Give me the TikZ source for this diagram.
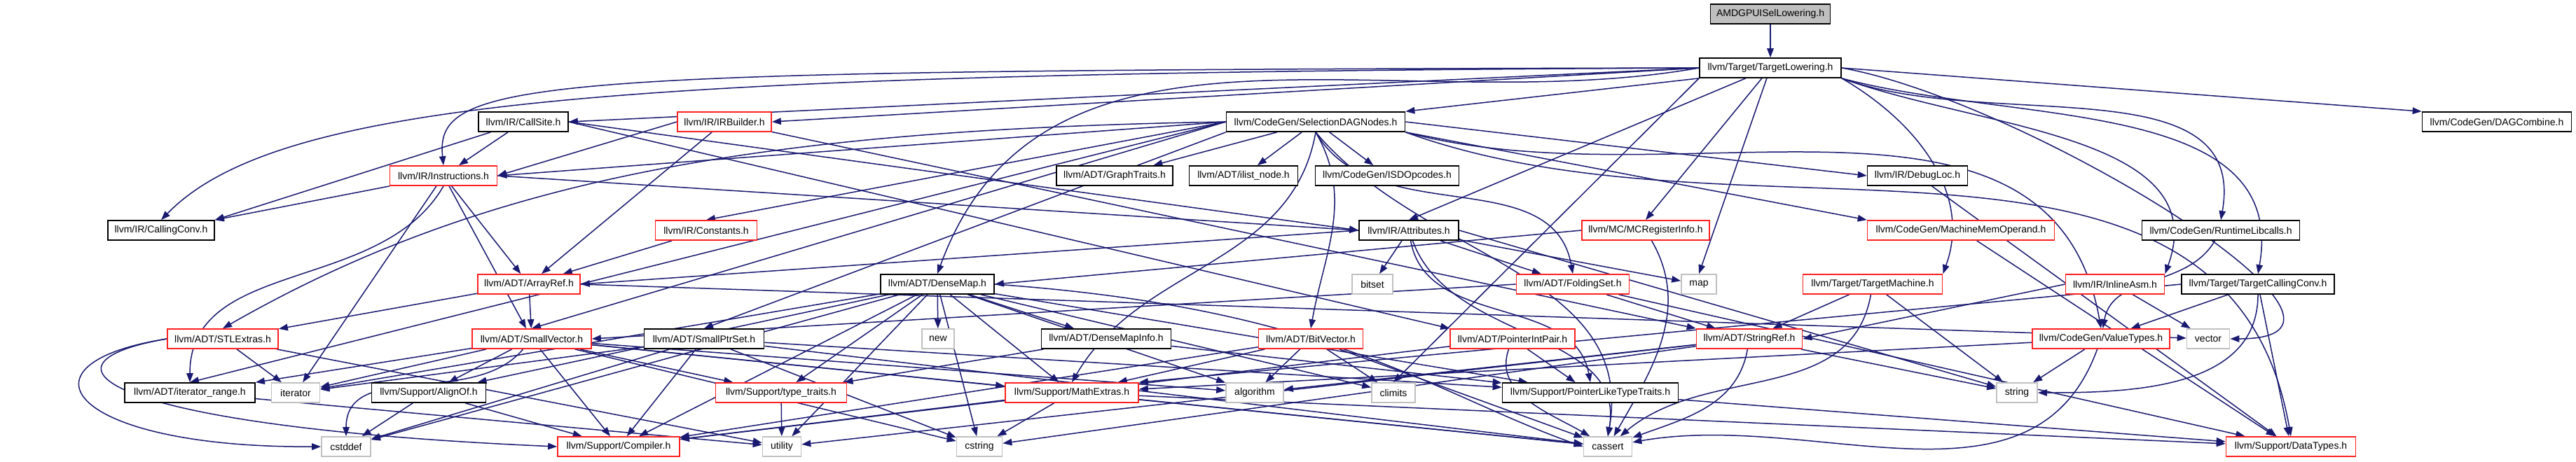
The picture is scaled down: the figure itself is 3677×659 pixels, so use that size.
\documentclass[tikz,border=0pt]{standalone}
\usepackage{fontspec}
\setmainfont{Liberation Sans}
\usetikzlibrary{arrows.meta}
\definecolor{edgec}{HTML}{191970}
\definecolor{redb}{HTML}{FF2020}
\definecolor{grayb}{HTML}{C0C0C0}
\definecolor{fillA}{HTML}{BFBFBF}
\pgfdeclarelayer{bg}
\pgfsetlayers{bg,main}
\tikzset{
  nb/.style={draw=black, line width=0.34pt, fill=white, rectangle, inner sep=0pt, minimum height=5.6pt, font=\fontsize{2.8}{3.2}\selectfont, text=black},
  nr/.style={nb, draw=redb},
  ng/.style={nb, draw=grayb},
  w/.style={minimum width=#1*0.2pt},
  e/.style={draw=edgec, line width=0.3pt, -{Triangle[length=2.6pt,width=1.9pt]}},
}
\begin{document}
\begin{tikzpicture}[x=0.2pt,y=0.2pt]
\useasboundingbox (0,0) rectangle (3677,-659);
% row 0,1
\node[nb, fill=fillA, w=171] (A) at (2527,-20) {AMDGPUISelLowering.h};
\node[nb, w=202] (TL) at (2527,-97) {llvm/Target/TargetLowering.h};
% row 2
\node[nb, w=128] (CS) at (747,-174) {llvm/IR/CallSite.h};
\node[nr, w=134] (IRB) at (1034,-174) {llvm/IR/IRBuilder.h};
\node[nb, w=255] (SDN) at (1878,-174) {llvm/CodeGen/SelectionDAGNodes.h};
\node[nb, w=213] (DAGC) at (3564,-174) {llvm/CodeGen/DAGCombine.h};
% row 3
\node[nr, w=153] (INS) at (633,-251) {llvm/IR/Instructions.h};
\node[nb, w=166] (GT) at (1591,-251) {llvm/ADT/GraphTraits.h};
\node[nb, w=155] (ILN) at (1775,-251) {llvm/ADT/ilist\_node.h};
\node[nb, w=205] (ISD) at (1980,-251) {llvm/CodeGen/ISDOpcodes.h};
\node[nb, w=143] (DL) at (2737,-251) {llvm/IR/DebugLoc.h};
% row 4
\node[nb, w=152] (CC) at (230,-329) {llvm/IR/CallingConv.h};
\node[nr, w=145] (CON) at (1008,-329) {llvm/IR/Constants.h};
\node[nb, w=142] (ATT) at (2011,-329) {llvm/IR/Attributes.h};
\node[nr, w=182] (MCR) at (2349,-329) {llvm/MC/MCRegisterInfo.h};
\node[nr, w=267] (MMO) at (2799,-329) {llvm/CodeGen/MachineMemOperand.h};
\node[nb, w=225] (RTL) at (3170,-329) {llvm/CodeGen/RuntimeLibcalls.h};
% row 5
\node[nr, w=146] (AR) at (755,-406) {llvm/ADT/ArrayRef.h};
\node[nb, w=162] (DM) at (1338,-406) {llvm/ADT/DenseMap.h};
\node[ng, w=58] (BS) at (1959,-406) {bitset};
\node[nr, w=161] (FS) at (2245,-406) {llvm/ADT/FoldingSet.h};
\node[ng, w=50] (MAP) at (2425,-406) {map};
\node[nr, w=199] (TM) at (2673,-406) {llvm/Target/TargetMachine.h};
\node[nr, w=141] (IA) at (3019,-406) {llvm/IR/InlineAsm.h};
\node[nb, w=218] (TCC) at (3223,-406) {llvm/Target/TargetCallingConv.h};
% row 6
\node[nr, w=158] (STL) at (318,-484) {llvm/ADT/STLExtras.h};
\node[nr, w=170] (SV) at (759,-484) {llvm/ADT/SmallVector.h};
\node[nb, w=171] (SPS) at (1005,-484) {llvm/ADT/SmallPtrSet.h};
\node[ng, w=46] (NEW) at (1339,-484) {new};
\node[nb, w=185] (DMI) at (1579,-484) {llvm/ADT/DenseMapInfo.h};
\node[nr, w=149] (BV) at (1871,-484) {llvm/ADT/BitVector.h};
\node[nr, w=178] (PIP) at (2159,-484) {llvm/ADT/PointerIntPair.h};
\node[nr, w=151] (SR) at (2497,-484) {llvm/ADT/StringRef.h};
\node[nr, w=196] (VT) at (2999,-484) {llvm/CodeGen/ValueTypes.h};
\node[ng, w=61] (VEC) at (3152,-484) {vector};
% row 7
\node[nb, w=186] (IR) at (271,-561) {llvm/ADT/iterator\_range.h};
\node[ng, w=69] (IT) at (422,-561) {iterator};
\node[nb, w=163] (AO) at (612,-561) {llvm/Support/AlignOf.h};
\node[nr, w=187] (TT) at (1115,-561) {llvm/Support/type\_traits.h};
\node[nr, w=190] (ME) at (1530,-561) {llvm/Support/MathExtras.h};
\node[ng, w=82] (ALG) at (1791,-561) {algorithm};
\node[ng, w=62] (CL) at (1989,-561) {climits};
\node[nb, w=251] (PLT) at (2270,-561) {llvm/Support/PointerLikeTypeTraits.h};
\node[ng, w=58] (STR) at (2879,-561) {string};
% row 8
\node[ng, w=70] (CD) at (494,-638) {cstddef};
\node[nr, w=174] (COMP) at (883,-638) {llvm/Support/Compiler.h};
\node[ng, w=55] (UT) at (1116,-638) {utility};
\node[ng, w=65] (CSTR) at (1398,-638) {cstring};
\node[ng, w=69] (CA) at (2295,-638) {cassert};
\node[nr, w=185] (DT) at (3270,-638) {llvm/Support/DataTypes.h};

\begin{pgfonlayer}{bg}
\draw[e] (A) -- (TL);
% TargetLowering
\draw[e] (TL.west) -- (CS.east);
\draw[e] (TL.west) -- (IRB.east);
\draw[e] (TL.south west) -- (SDN.north east);
\draw[e] (TL.west) .. controls (760,-100) and (620,-110) .. (INS.north);
\draw[e] (TL.west) .. controls (900,-104) and (400,-140) .. (CC.north);
\draw[e] (TL.west) to[out=190,in=70] (DM.north);
\draw[e] (TL) -- (ATT.north);
\draw[e] (TL) -- (MCR.north);
\draw[e] (TL) -- (MAP.north);
\draw[e] (TL.south west) -- (CL.north);
\draw[e] (TL.east) -- (DAGC.north west);
\draw[e] (TL.south east) to[out=-20,in=80] (RTL.north);
\draw[e] (TL.south east) to[out=-30,in=70] (TM.north east);
\draw[e] (TL.south east) to[out=-20,in=70] (IA.north east);
\draw[e] (TL.south east) to[out=-15,in=80] (TCC.north);
\draw[e] (TL.east) to[out=-10,in=0] (VEC.east);
% CallSite
\draw[e] (CS) -- (CC.north east);
\draw[e] (CS) -- (INS);
\draw[e] (CS.east) -- (PIP.north west);
\draw[e] (CS.east) -- (ATT.west);
% IRBuilder
\draw[e] (IRB.west) -- (INS.east);
\draw[e] (IRB) -- (AR);
\draw[e] (IRB) -- (SR.north west);
% SelectionDAGNodes
\draw[e] (SDN) -- (GT);
\draw[e] (SDN) -- (ILN);
\draw[e] (SDN) -- (ISD);
\draw[e] (SDN.east) -- (DL.west);
\draw[e] (SDN.south east) -- (MMO.north west);
\draw[e] (SDN.south east) to[out=-15,in=100] (VT.north);
\draw[e] (SDN.west) -- (CON.north);
\draw[e] (SDN.west) -- (INS.east);
\draw[e] (SDN.west) .. controls (1100,-185) and (700,-250) .. (STL.north);
\draw[e] (SDN.west) -- (SV.north);
\draw[e] (SDN.south west) -- (SPS.north);
\draw[e] (SDN.west) -- (IR.north);
\draw[e] (SDN.south) to[out=-60,in=80] (BV.north);
\draw[e] (SDN.south) to[out=-60,in=100] (FS.north);
\draw[e] (SDN.south) to[out=-100,in=60] (ME.north);
\draw[e] (SDN.south east) to[out=-20,in=100] (DT.north);
\draw[e] (SDN.south) to[out=-50,in=80] (CA.north);
% Instructions
\draw[e] (INS) -- (CC);
\draw[e] (INS.east) -- (ATT.west);
\draw[e] (INS) -- (AR);
\draw[e] (INS) -- (SV);
\draw[e] (INS.south) to[out=-120,in=90] (IR.north);
\draw[e] (INS) -- (IT);
% Constants
\draw[e] (CON) -- (AR);
% Attributes
\draw[e] (ATT.west) -- (AR.east);
\draw[e] (ATT) -- (FS);
\draw[e] (ATT) -- (BS);
\draw[e] (ATT) -- (MAP);
\draw[e] (ATT) to[out=-80,in=100] (PLT.north);
\draw[e] (ATT) to[out=-70,in=80] (CA.north);
\draw[e] (ATT.east) -- (STR);
% MCRegisterInfo
\draw[e] (MCR.west) -- (DM.east);
\draw[e] (MCR) to[out=-60,in=60] (CA);
% others row 4
\draw[e] (MMO) -- (DT);
\draw[e] (RTL) to[out=-120,in=80] (VT);
% DenseMap
\draw[e] (DM) -- (DMI);
\draw[e] (DM) -- (NEW);
\draw[e] (DM) -- (AO);
\draw[e] (DM) -- (COMP);
\draw[e] (DM) -- (ME);
\draw[e] (DM) -- (TT);
\draw[e] (DM) -- (UT);
\draw[e] (DM) -- (CSTR);
\draw[e] (DM) -- (ALG);
\draw[e] (DM.east) .. controls (1900,-440) and (2040,-560) .. (CA.west);
\draw[e] (DM) -- (CL);
\draw[e] (DM) -- (CD);
\draw[e] (DM) -- (IT);
\draw[e] (DM) -- (PLT);
% FoldingSet
\draw[e] (FS.west) -- (SV.east);
\draw[e] (FS) -- (SR);
\draw[e] (FS) -- (DT);
% TargetMachine
\draw[e] (TM) -- (SR);
\draw[e] (TM) to[out=-100,in=40] (CA);
\draw[e] (TM) -- (STR);
% InlineAsm
\draw[e] (IA.west) -- (SR.east);
\draw[e] (IA) -- (VEC);
% TargetCallingConv
\draw[e] (TCC) -- (VT);
\draw[e] (TCC) -- (DT);
\draw[e] (TCC) to[out=-90,in=0] (STR.east);
\draw[e] (TCC.west) -- (ME.north east);
% ArrayRef
\draw[e] (AR) -- (SV);
\draw[e] (AR) -- (STL);
\draw[e] (AR.east) -- (VEC);
% STLExtras
\draw[e] (STL) -- (IT);
\draw[e] (STL.west) .. controls (10,-520) and (100,-640) .. (CD.west);
\draw[e] (STL.west) .. controls (30,-520) and (150,-610) .. (COMP.west);
\draw[e] (STL) -- (UT);
% SmallVector
\draw[e] (SV) -- (IR);
\draw[e] (SV) -- (IT);
\draw[e] (SV) -- (AO);
\draw[e] (SV) -- (COMP);
\draw[e] (SV) to[out=-130,in=90] (CD);
\draw[e] (SV) -- (ME);
\draw[e] (SV) -- (TT);
\draw[e] (SV) -- (ALG);
\draw[e] (SV) -- (CA);
\draw[e] (SV) -- (CSTR);
% SmallPtrSet
\draw[e] (SPS) -- (COMP);
\draw[e] (SPS) -- (CSTR);
\draw[e] (SPS) -- (CD);
\draw[e] (SPS) -- (IT);
\draw[e] (SPS) -- (PLT);
\draw[e] (SPS) -- (CA);
% DenseMapInfo
\draw[e] (DMI) -- (TT);
\draw[e] (DMI) -- (PLT);
% BitVector
\draw[e] (BV) -- (ALG);
\draw[e] (BV) -- (CL);
\draw[e] (BV) -- (CA);
\draw[e] (BV) -- (COMP);
\draw[e] (BV) -- (ME);
% PointerIntPair
\draw[e] (PIP) -- (PLT);
\draw[e] (PIP) to[out=-110,in=150] (CA);
\draw[e] (PIP) -- (COMP);
% StringRef
\draw[e] (SR) -- (ALG);
\draw[e] (SR) to[out=-100,in=20] (CA);
\draw[e] (SR) -- (STR);
\draw[e] (SR) -- (CSTR);
\draw[e] (SR) -- (UT);
% ValueTypes
\draw[e] (VT) -- (STR);
\draw[e] (VT) to[out=-110,in=10] (CA);
\draw[e] (VT) -- (ME);
% bottom
\draw[e] (IR) -- (UT);
\draw[e] (AO) -- (CD);
\draw[e] (AO) -- (COMP);
\draw[e] (TT) -- (UT);
\draw[e] (ME) -- (COMP);
\draw[e] (ME) -- (CSTR);
\draw[e] (ME) -- (CA);
\draw[e] (ME) -- (DT);
\draw[e] (PLT) -- (DT);
\draw[e] (DL) -- (DT);
\end{pgfonlayer}
\end{tikzpicture}
\end{document}
